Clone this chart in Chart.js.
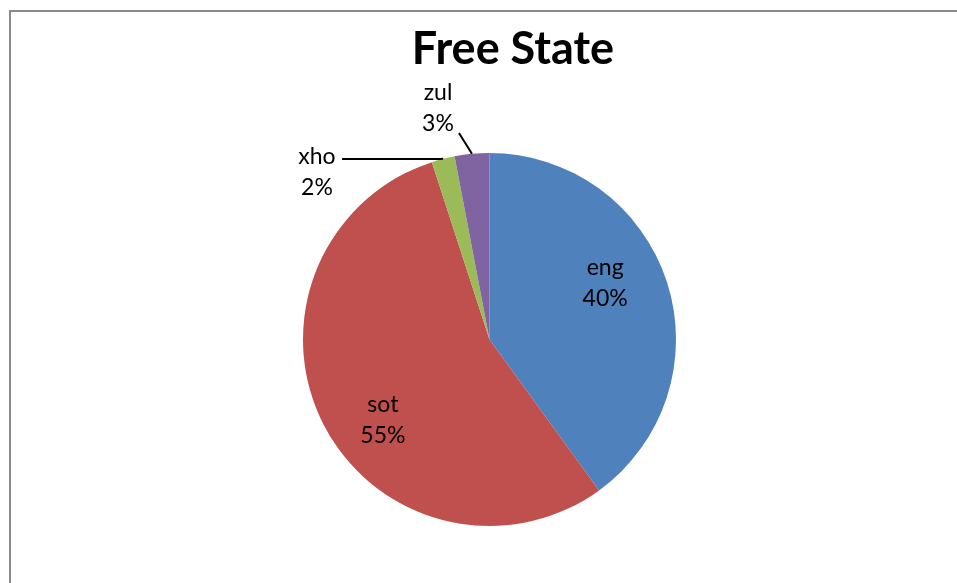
<!DOCTYPE html>
<html>
<head>
<meta charset="utf-8">
<script src="https://cdn.jsdelivr.net/npm/chart.js@4.4.1/dist/chart.umd.min.js"></script>
<style>
  html, body { margin: 0; padding: 0; background: #fff; overflow: hidden; }
  #wrap { position: relative; width: 957px; height: 583px; overflow: hidden; }
  #frame { position: absolute; left: 9px; top: 10px; width: 960px; height: 600px;
           border-left: 2px solid #8a8a8a; border-top: 2px solid #8a8a8a; }
  #title { position: absolute; left: 0; width: 1026px; top: 20px; text-align: center;
           font: bold 45px Lato, "Open Sans", sans-serif; color: #000; line-height: 54px; }
  canvas { position: absolute; left: 0; top: 0; }
</style>
</head>
<body>
<div id="wrap">
  <div id="frame"></div>
  <canvas id="pie" width="957" height="583"></canvas>
  <div id="title">Free State</div>
</div>
<script>
const languages = ['eng', 'sot', 'xho', 'zul'];
const shares = [40, 55, 2, 3];
const sliceColors = ['#4F81BD', '#C0504D', '#9BBB59', '#8064A2'];

// where each label sits: inside ones are placed by angle/radius, outside ones get a leader line
const labelLayout = [
  { inside: true, angleShift: -8, radius: 0.69 },
  { inside: true, angleShift: -10, radius: 0.716 },
  { inside: false, textX: 317, textY: 172, lineFrom: [342, 159], lineBend: [440, 159] },
  { inside: false, textX: 438, textY: 108, lineFrom: [459, 133] }
];

const labelFont = '23px Lato, "Open Sans", sans-serif';
const lineGap = 31;

const pieLabels = {
  id: 'pieLabels',
  afterDatasetsDraw(chart) {
    const ctx = chart.ctx;
    const arcs = chart.getDatasetMeta(0).data;
    ctx.save();
    ctx.font = labelFont;
    ctx.fillStyle = '#000';
    ctx.textAlign = 'center';
    ctx.textBaseline = 'middle';
    arcs.forEach((arc, i) => {
      const lay = labelLayout[i];
      const mid = (arc.startAngle + arc.endAngle) / 2;
      let tx, ty;
      if (lay.inside) {
        const a = mid + lay.angleShift * Math.PI / 180;
        tx = arc.x + Math.cos(a) * arc.outerRadius * lay.radius;
        ty = arc.y + Math.sin(a) * arc.outerRadius * lay.radius;
      } else {
        tx = lay.textX;
        ty = lay.textY;
        const ex = arc.x + Math.cos(mid) * arc.outerRadius;
        const ey = arc.y + Math.sin(mid) * arc.outerRadius;
        ctx.beginPath();
        ctx.strokeStyle = '#000';
        ctx.lineWidth = 2;
        ctx.moveTo(lay.lineFrom[0], lay.lineFrom[1]);
        if (lay.lineBend) ctx.lineTo(lay.lineBend[0], lay.lineBend[1]);
        ctx.lineTo(ex, ey);
        ctx.stroke();
      }
      ctx.fillText(chart.data.labels[i], tx, ty - lineGap / 2);
      ctx.fillText(chart.data.datasets[0].data[i] + '%', tx, ty + lineGap / 2);
    });
    ctx.restore();
  }
};

new Chart(document.getElementById('pie'), {
  type: 'pie',
  data: {
    labels: languages,
    datasets: [{
      data: shares,
      backgroundColor: sliceColors,
      borderWidth: 0
    }]
  },
  options: {
    responsive: false,
    animation: false,
    layout: { padding: { left: 200, right: 178, top: 153, bottom: 57 } },
    plugins: {
      legend: { display: false },
      tooltip: { enabled: false },
      title: { display: false }
    }
  },
  plugins: [pieLabels]
});
</script>
</body>
</html>
